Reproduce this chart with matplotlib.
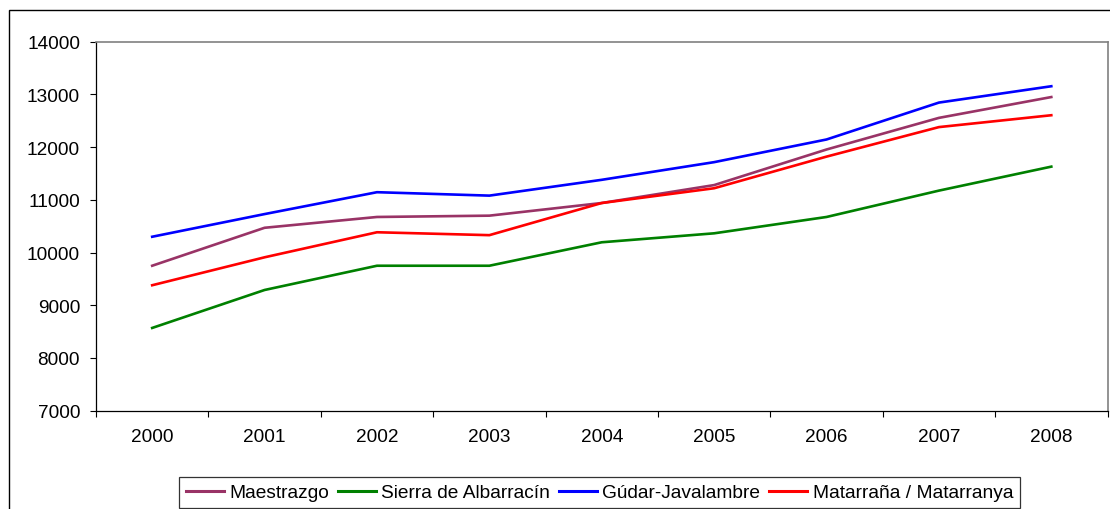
import matplotlib
matplotlib.use("Agg")
from matplotlib import pyplot as plt
from matplotlib.patches import Rectangle

plt.rcParams['font.family'] = ['Liberation Sans', 'DejaVu Sans']

years = ["2000", "2001", "2002", "2003", "2004", "2005", "2006", "2007", "2008"]

maestrazgo = [9750, 10470, 10675, 10700, 10940, 11280, 11955, 12555, 12950]
sierra_albarracin = [8570, 9290, 9750, 9750, 10195, 10365, 10675, 11175, 11630]
gudar_javalambre = [10300, 10730, 11145, 11080, 11380, 11715, 12145, 12845, 13155]
matarrana = [9380, 9910, 10385, 10330, 10940, 11220, 11820, 12380, 12605]

series = [
    ("Maestrazgo", maestrazgo, "#993366"),
    ("Sierra de Albarracín", sierra_albarracin, "#008000"),
    ("Gúdar-Javalambre", gudar_javalambre, "#0000FF"),
    ("Matarraña / Matarranya", matarrana, "#FF0000"),
]

fs = 13.7

fig = plt.figure(figsize=(11.1, 5.1), dpi=100)
ax = fig.add_axes([96 / 1110, 1 - 411.7 / 510, (1107.5 - 96) / 1110, (411.7 - 42.7) / 510])

# marco exterior del gráfico (cortado a la derecha y abajo)
fig.patches.append(Rectangle((9 / 1110, -0.2), 1.2, 0.2 + 1 - 11 / 510,
                             transform=fig.transFigure, fill=False,
                             edgecolor="black", linewidth=1.0))

x = range(len(years))
for name, values, color in series:
    ax.plot(x, values, color=color, linewidth=1.9, label=name)

ax.set_xlim(-0.5, len(years) - 0.5)
ax.set_ylim(7000, 14000)
ax.set_yticks(range(7000, 14001, 1000))
ax.set_xticks(x)
ax.set_xticklabels(years)
ax.set_xticks([i - 0.5 for i in range(len(years) + 1)], minor=True)
ax.tick_params(axis="x", which="major", length=0, pad=12.5, labelsize=fs)
ax.tick_params(axis="x", which="minor", length=4.5, width=0.8, direction="out")
ax.tick_params(axis="y", length=4.5, width=0.8, pad=7, labelsize=fs)

for side in ("top", "right"):
    ax.spines[side].set_color("#808080")
    ax.spines[side].set_linewidth(1.2)
for side in ("left", "bottom"):
    ax.spines[side].set_color("black")
    ax.spines[side].set_linewidth(0.9)

leg = fig.legend(loc="lower center", bbox_to_anchor=(599.5 / 1110, 1.0 / 510), ncol=4,
                 fontsize=13.8, frameon=True, fancybox=False, shadow=False,
                 handlelength=2.0, handletextpad=0.27, columnspacing=0.45,
                 borderpad=0.35, borderaxespad=0)
leg.get_frame().set_edgecolor("black")
leg.get_frame().set_linewidth(0.9)
for line in leg.get_lines():
    line.set_linewidth(2.2)

fig.savefig("out.png", dpi=100)
